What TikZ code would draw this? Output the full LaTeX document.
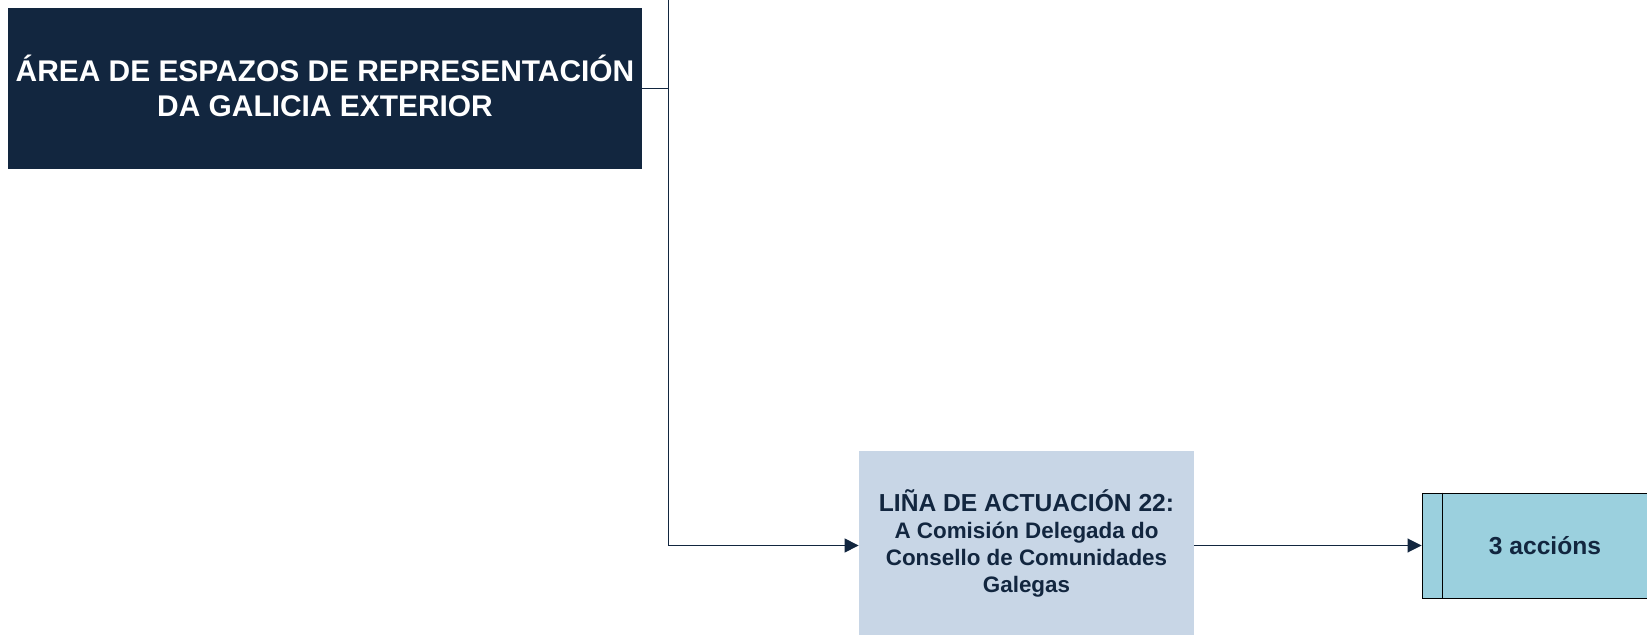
\documentclass[tikz,border=0pt]{standalone}
\usepackage{fontspec}
\setmainfont{Liberation Sans}
\usetikzlibrary{arrows.meta}
\definecolor{navy}{HTML}{12263F}
\definecolor{greyblue}{HTML}{C8D6E6}
\definecolor{aqua}{HTML}{9BD0DE}

\begin{document}
\begin{tikzpicture}[x=0.5pt,y=-0.5pt,
        area/.style={fill=navy,text=white,font=\bfseries\fontsize{14.95}{17.3}\selectfont,
            minimum width=316.8pt,minimum height=80.3pt,inner sep=0pt,align=center},
        linea/.style={fill=greyblue,text=navy,font=\bfseries\fontsize{11.2}{13.5}\selectfont,
            minimum width=167.5pt,minimum height=92pt,inner sep=0pt,align=center},
        accion/.style={draw=black,line width=0.5pt,fill=aqua,text=navy,
            font=\bfseries\fontsize{12.3}{14}\selectfont,
            minimum width=123pt,minimum height=52.5pt,inner sep=0pt},
        link/.style={draw=navy,line width=0.5pt},
        arr/.style={link,-{Triangle[length=7pt,width=7pt]}}]
            \useasboundingbox (0,0) rectangle (1647,635);

            \node[area]   (area)    at (325,88.7)   {ÁREA DE ESPAZOS DE REPRESENTACIÓN\\DA GALICIA EXTERIOR\rule[-3.2pt]{0pt}{3.2pt}};
            \node[linea]  (linea22) at (1026.5,543) {{\fontsize{12.3}{13.5}\selectfont LIÑA DE ACTUACIÓN 22:}\\A Comisión Delegada do\\Consello de Comunidades\\Galegas};
            \node[accion] (accions) at (1545,545.5) {3 accións};
            \coordinate (trunk) at (668,0);

            % inner bar of the action box
            \draw[line width=0.5pt] ([xshift=10.5pt]accions.north west) -- ([xshift=10.5pt]accions.south west);

            \draw[link] (area.east) -- (area.east -| trunk);
            \draw[arr] (trunk) |- (linea22.west |- accions.west);
            \draw[arr] (linea22.east |- accions.west) -- (accions.west);
        \end{tikzpicture}
\end{document}
